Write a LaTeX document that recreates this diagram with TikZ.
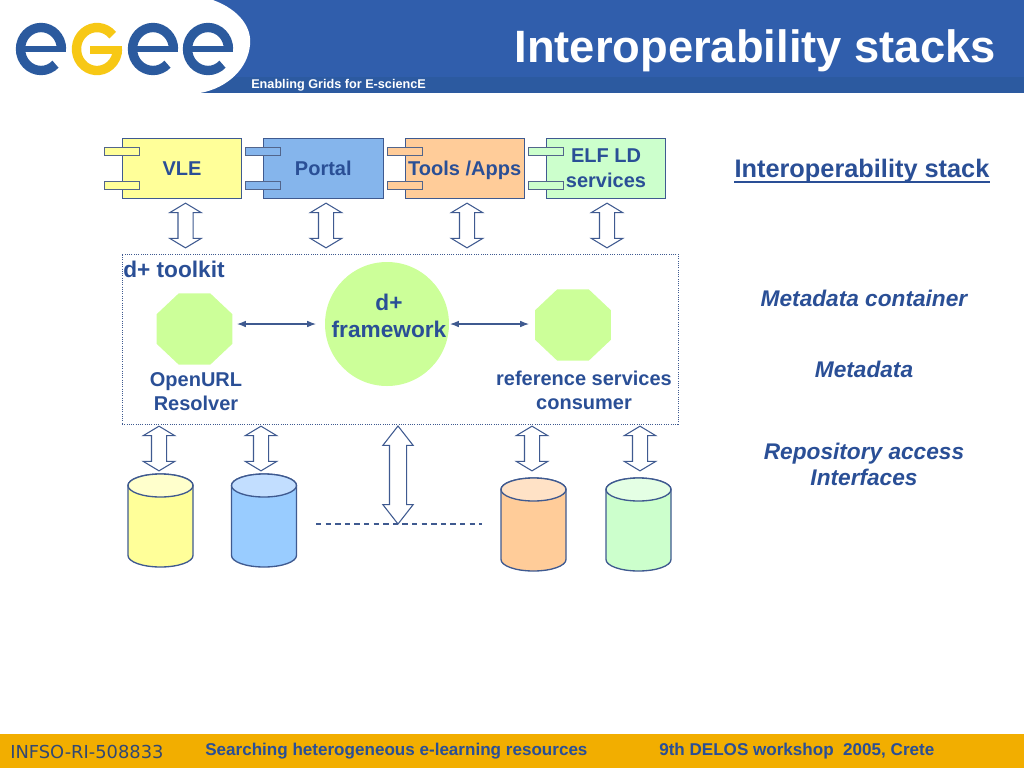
\documentclass[tikz,border=0pt]{standalone}
\usepackage{fontspec}
\setmainfont{Liberation Sans}
\newfontfamily\idfont{DejaVu Sans}
\usetikzlibrary{arrows.meta,positioning,shapes.geometric,shapes.arrows}
\definecolor{band}{HTML}{305EAC}
\definecolor{bandlow}{HTML}{2C5AA0}
\definecolor{foot}{HTML}{F2AE00}
\definecolor{ink}{HTML}{2A4F96}
\definecolor{edge}{HTML}{3F5A90}
\definecolor{vle}{HTML}{FFFF99}
\definecolor{vletop}{HTML}{FFFFCC}
\definecolor{portal}{HTML}{85B5EC}
\definecolor{blue}{HTML}{99CCFF}
\definecolor{bluetop}{HTML}{C2DEFF}
\definecolor{tools}{HTML}{FFCC99}
\definecolor{toolstop}{HTML}{FFE2C6}
\definecolor{elf}{HTML}{CCFFCC}
\definecolor{elftop}{HTML}{E4FFE4}
\definecolor{dplus}{HTML}{CCFF99}
\definecolor{logoblue}{HTML}{2B5A9E}
\definecolor{logoyellow}{HTML}{F7C815}
\tikzset{
  >=Latex,
  every node/.style={text=ink,inner sep=0pt},
  txt/.style={font=\fontsize{15}{18}\selectfont\bfseries,align=center},
  txtbig/.style={font=\fontsize{17}{20}\selectfont\bfseries,align=center},
  side/.style={font=\fontsize{17}{20}\selectfont\bfseries\itshape,align=center},
  footer/.style={font=\fontsize{12.8}{15}\selectfont\bfseries},
  box/.style={draw=edge,line width=.7pt,outer sep=0pt,minimum width=89.5pt,minimum height=45pt,txt},
  oneline/.style={text height=11pt,text depth=0pt},
  tabbox/.style={draw=edge!70!gray,line width=.7pt,minimum width=26pt,minimum height=6.6pt},
  octa/.style={regular polygon,regular polygon sides=8,fill=dplus,minimum size=58pt},
  updown/.style={double arrow,draw=edge,fill=white,line width=.8pt,rotate=90,minimum height=33.5pt,minimum width=23.5pt,
    inner ysep=5.25pt,double arrow head extend=6.2pt,double arrow tip angle=118,double arrow head indent=0pt},
  updownlong/.style={updown,minimum height=73.5pt,minimum width=22pt,inner ysep=6pt,double arrow head extend=5pt,double arrow tip angle=76},
  thin/.style={<->,draw=edge,line width=.8pt},
  drumline/.style={draw=edge,line width=1pt},
}
\newcommand{\logoe}[1]{%
  \draw[logoblue,line width=5pt] (#1-20,49) -- (#1+25,49);
  \draw[logoblue,line width=7pt] (#1+20.5,49) arc[start angle=0,end angle=-315,x radius=20.5,y radius=21.5];
}
\newcommand{\repo}[5]{% name, centre x, top y, body, lid
  \coordinate (#1) at (#2,#3+46.5);
  \path[drumline,fill=#4] (#2-32.5,#3+11.5) -- (#2-32.5,#3+81.5) arc[start angle=180,end angle=0,x radius=32.5,y radius=11.5] -- (#2+32.5,#3+11.5) arc[start angle=0,end angle=-180,x radius=32.5,y radius=11.5] -- cycle;
  \path[drumline,fill=#5] (#2,#3+11.5) ellipse[x radius=32.5,y radius=11.5];
}
\begin{document}
\begin{tikzpicture}[x=.75pt,y=-.75pt]
\useasboundingbox (0,0) rectangle (1024,768);

% header
\fill[band] (0,0) rectangle (1024,77);
\fill[bandlow] (0,77) rectangle (1024,93);
\fill[white] (0,0) -- (213,0) .. controls (240,10) and (252,28) .. (250,45) .. controls (248,68) and (228,88) .. (200,93) -- (0,93) -- cycle;
\logoe{41}
\draw[logoyellow,line width=6pt] (90,50) -- (122,50);
\draw[logoyellow,line width=7pt] (112.7,35.2) arc[start angle=-40,end angle=-360,x radius=20.5,y radius=21.5];
\logoe{153}
\logoe{208}
\node[anchor=base east,text=white,font=\fontsize{34}{38}\selectfont\bfseries] (title) at (996,62) {Interoperability stacks};
\node[anchor=west,text=white,font=\fontsize{9.5}{11}\selectfont\bfseries] (enabling) at (251,85) {Enabling Grids for E-sciencE};

% top row of components
\node[box,oneline,fill=vle] (vlebox) at (182,168) {VLE};
\node[box,oneline,fill=portal,right=16.5pt of vlebox] (portalbox) {Portal};
\node[box,oneline,fill=tools,right=16.5pt of portalbox] (toolsbox) {Tools /Apps};
\node[box,fill=elf,right=16.5pt of toolsbox] (elfbox) {ELF LD\\[1pt]services};
\node[tabbox,fill=vle] (vletaba) at (122,151.5) {};
\node[tabbox,fill=vle] (vletabb) at (122,185.5) {};
\node[tabbox,fill=portal] (portaltaba) at (263,151.5) {};
\node[tabbox,fill=portal] (portaltabb) at (263,185.5) {};
\node[tabbox,fill=tools] (toolstaba) at (405,151.5) {};
\node[tabbox,fill=tools] (toolstabb) at (405,185.5) {};
\node[tabbox,fill=elf] (elftaba) at (546,151.5) {};
\node[tabbox,fill=elf] (elftabb) at (546,185.5) {};

\node[updown] (vlelink) at (185.5,225.5) {};
\node[updown] (portallink) at (326,225.5) {};
\node[updown] (toolslink) at (467,225.5) {};
\node[updown] (elflink) at (607,225.5) {};

% toolkit
\node[draw=edge,densely dotted,line width=.7pt,minimum width=417pt,minimum height=127.5pt] (toolkit) at (400,339) {};
\node[txtbig,anchor=west] (toolkitlabel) at (123,269) {d+ toolkit};
\node[circle,fill=dplus,minimum size=93pt] (framework) at (387,324) {};
\node[txtbig] (frameworklabel) at (389,316) {d+\\framework};
\node[octa,xscale=1.06] (resolver) at (194.5,329) {};
\node[octa,xscale=1.06] (consumer) at (573,325) {};
\node[txt] (resolverlabel) at (196,392) {OpenURL\\Resolver};
\node[txt] (consumerlabel) at (584,390) {reference services\\consumer};
\coordinate (resolverend) at (237,324);
\coordinate (frameworkin) at (316,324);
\coordinate (frameworkout) at (450,324);
\coordinate (consumerend) at (529,324);
\draw[thin] (resolverend) -- (frameworkin);
\draw[thin] (frameworkout) -- (consumerend);

% repositories
\node[updown] (vlerepolink) at (159,448.5) {};
\node[updown] (bluerepolink) at (261,448.5) {};
\node[updown] (toolsrepolink) at (532,448.5) {};
\node[updown] (elfrepolink) at (640,448.5) {};
\coordinate (dashstart) at (316,524);
\coordinate (dashend) at (482,524);
\draw[edge,line width=.8pt,dash pattern=on 4pt off 3.2pt] (dashstart) -- (dashend);
\node[updownlong] (centrelink) at (398,475) {};
\repo{vlerepo}{160.5}{474}{vle}{vletop}
\repo{bluerepo}{264}{474}{blue}{bluetop}
\repo{toolsrepo}{533.5}{478}{tools}{toolstop}
\repo{elfrepo}{638.5}{478}{elf}{elftop}

% right column
\node[anchor=base,font=\fontsize{19}{22}\selectfont\bfseries] (stacklabel) at (862,177) {Interoperability stack};
\draw[ink,line width=1.3pt] ([yshift=-3.75pt]stacklabel.base west) -- ([yshift=-3.75pt]stacklabel.base east);
\node[side] (containerlabel) at (864,298) {Metadata container};
\node[side] (metadatalabel) at (864,369) {Metadata};
\node[side] (accesslabel) at (864,464.5) {Repository access\\Interfaces};

% footer
\fill[foot] (0,734) rectangle (1024,768);
\node[anchor=west,text=edge!80!black,font=\idfont\fontsize{13.4}{16}\selectfont] (project) at (10,752) {INFSO-RI-508833};
\node[footer,anchor=west] (talk) at (205,751.5) {Searching heterogeneous e-learning resources};
\node[footer,anchor=west] (venue) at (659,751.5) {9th DELOS workshop\ \ 2005, Crete};
\end{tikzpicture}
\end{document}
